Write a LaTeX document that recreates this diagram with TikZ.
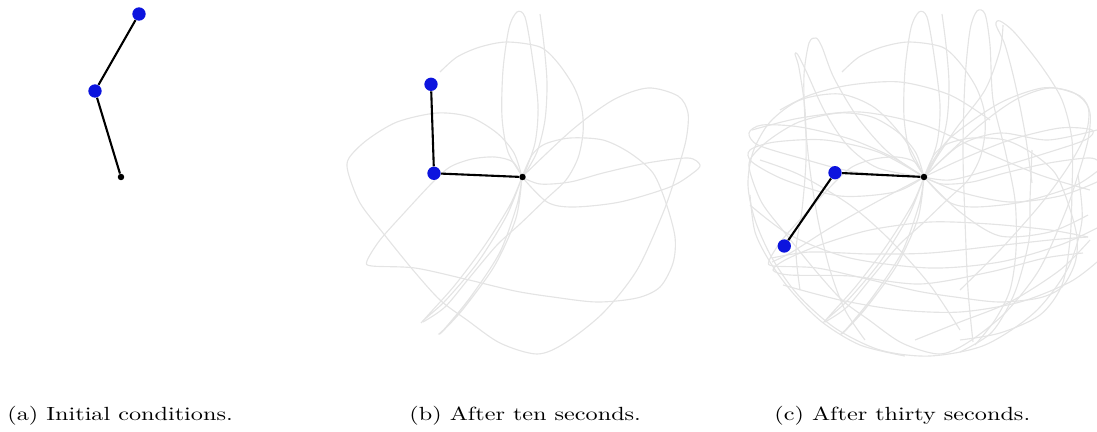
\documentclass[tikz,border=0pt]{standalone}
\definecolor{tracegray}{RGB}{228,228,228}
\definecolor{massblue}{RGB}{12,20,222}
\tikzset{
  trace/.style={draw=tracegray, line width=0.6pt},
  rod/.style={draw=black, line width=1.1pt},
  mass/.style={circle, fill=massblue, inner sep=0pt, minimum size=7pt},
  pivot/.style={circle, fill=black, inner sep=0pt, minimum size=3.4pt},
  caption/.style={anchor=base west, inner sep=0pt, xscale=1.27}
}
\newcommand\tracesb{%
  \draw[trace] plot[smooth] coordinates {(540,14) (544,45) (547,83) (545,120) (537,152) (523,177)};
  \draw[trace] plot[smooth] coordinates {(523,177) (508,152) (502,117) (503,70) (509,28) (517,12) (525,17) (532,55) (538,105) (535,143) (523,177)};
  \draw[trace] plot[smooth] coordinates {(522,177) (514,153) (497,133) (470,117) (437,113) (397,122) (367,140) (349,158) (348,172) (360,203) (383,233) (413,270) (440,300) (467,320) (500,343) (537,354) (565,343) (603,313) (637,270) (663,213) (676,175) (686,140) (688,113) (678,96) (648,88) (613,100) (572,130) (522,177)};
  \draw[trace] plot[smooth] coordinates {(522,177) (540,184) (570,182) (603,173) (647,163) (688,158) (700,165) (693,173) (670,187) (620,202) (573,207) (547,202) (522,177)};
  \draw[trace] plot[smooth] coordinates {(522,177) (532,155) (545,144) (570,138) (603,140) (630,153) (653,173) (666,203) (675,237) (673,263) (660,287) (637,298) (597,302) (553,297) (515,291) (465,279) (415,268) (372,266) (367,261) (380,240) (405,212) (432,183) (450,167) (472,159) (495,157) (513,162) (522,177)};
  \draw[trace] plot[smooth] coordinates {(423,322) (445,307) (470,277) (497,245) (520,224) (545,200) (566,180) (578,158) (583,133) (582,110) (574,87) (558,63) (540,47) (507,42) (480,47) (457,57) (440,72)};
  \draw[trace] plot[smooth] coordinates {(522,177) (507,215) (478,262) (446,300) (425,319) (421,323) (430,313) (455,285) (485,245) (510,205) (522,177)};
  \draw[trace] plot[smooth] coordinates {(522,177) (516,218) (495,265) (464,308) (443,331) (439,334) (447,326) (472,295) (500,252) (517,205) (522,177)};
}
\begin{document}
\begin{tikzpicture}[x=0.525pt, y=-0.525pt]
\useasboundingbox (0,0) rectangle (1097,431);

% ---------- panel (b) traces
\tracesb
% ---------- panel (c) traces
\begin{scope}
\clip (700,0) rectangle (1097,431);
\begin{scope}[shift={(402,0)}]
\tracesb
\end{scope}
\draw[trace] plot[smooth] coordinates {(924,177) (888,152) (858,118) (834,78) (822,47) (816,38) (809,43) (804,75) (805,120) (810,170) (818,220) (830,270) (845,310) (865,340)};
\draw[trace] plot[smooth] coordinates {(924,177) (878,168) (848,146) (825,112) (807,73) (798,55) (795,54) (799,68) (805,110) (806,160) (802,210) (796,250) (800,290)};
\draw[trace] plot[smooth] coordinates {(924,177) (905,140) (875,108) (840,94) (800,100) (770,122) (753,152) (748,185) (755,220) (772,258) (798,295) (835,328) (880,350) (930,356) (985,345) (1035,312) (1068,268) (1082,220) (1078,175)};
\draw[trace] plot[smooth] coordinates {(924,177) (892,157) (850,139) (800,127) (762,125) (749,133) (758,145) (800,158) (855,172) (924,177)};
\draw[trace] plot[smooth] coordinates {(924,177) (878,152) (825,140) (775,142) (750,150) (752,162) (785,180) (840,196) (895,192) (924,177)};
\draw[trace] plot[smooth] coordinates {(772,258) (810,252) (870,254) (930,253) (995,246) (1050,240) (1088,237)};
\draw[trace] plot[smooth] coordinates {(1088,237) (1050,230) (990,224) (930,222) (870,230) (820,245) (785,260) (773,270) (790,275) (850,276) (920,284) (990,272) (1045,258) (1083,253)};
\draw[trace] plot[smooth] coordinates {(750,205) (790,235) (850,258) (930,268) (1000,262) (1060,245) (1097,228)};
\draw[trace] plot[smooth] coordinates {(783,285) (840,300) (900,310) (960,312) (1020,302) (1070,282) (1097,262)};
\draw[trace] plot[smooth] coordinates {(973,342) (968,290) (965,220) (963,150) (965,80) (970,30) (977,11) (985,14) (990,45) (993,100) (1005,150) (1015,200) (1016,250) (1010,290) (995,320) (975,345)};
\draw[trace] plot[smooth] coordinates {(1032,183) (1025,133) (1015,83) (1005,45) (996,25) (1000,21) (1015,33) (1042,67) (1062,100) (1072,140) (1072,190) (1070,240) (1062,285) (1040,315) (1000,333) (960,340)};
\draw[trace] plot[smooth] coordinates {(924,177) (955,130) (985,90) (1000,50) (1003,25)};
\draw[trace] plot[smooth] coordinates {(1032,150) (1030,200) (1029,240) (1015,292) (992,332) (960,352)};
\draw[trace] plot[smooth] coordinates {(924,177) (948,140) (998,104) (1042,88) (1072,92) (1088,107) (1086,133) (1068,167) (1040,205) (1000,250) (960,290)};
\draw[trace] plot[smooth] coordinates {(924,177) (960,145) (1000,133) (1048,140) (1097,130)};
\draw[trace] plot[smooth] coordinates {(924,177) (960,192) (1010,202) (1060,196) (1097,182)};
\draw[trace] plot[smooth] coordinates {(750,195) (755,232) (770,262) (792,292) (822,322) (860,345) (905,356)};
\draw[trace] plot[smooth] coordinates {(924,177) (880,200) (830,228) (792,252) (772,262)};
\draw[trace] plot[smooth] coordinates {(924,177) (960,212) (1000,236) (1050,232) (1088,215)};
\draw[trace] plot[smooth] coordinates {(915,340) (960,322) (1010,302) (1060,270) (1090,240)};
\draw[trace] plot[smooth] coordinates {(760,160) (800,175) (850,205) (890,240) (930,285) (960,330)};
\draw[trace] plot[smooth] coordinates {(780,110) (810,95) (850,85) (900,82) (950,95) (990,120)};
\draw[trace] plot[smooth] coordinates {(924,177) (960,160) (1010,140) (1060,128) (1092,130) (1085,140) (1040,155) (990,170) (950,180) (924,177)};
\draw[trace] plot[smooth] coordinates {(752,130) (800,118) (860,112) (924,125) (980,150) (1040,175) (1090,190)};
\end{scope}

% ---------- pendulums
\node[pivot] (pa) at (121,177) {};
\node[mass] (m1a) at (95,91) {};
\node[mass] (m2a) at (139,14) {};
\node[pivot] (pb) at (522.5,177) {};
\node[mass] (m1b) at (434,173.3) {};
\node[mass] (m2b) at (431,84.3) {};
\node[pivot] (pc) at (924,177) {};
\node[mass] (m1c) at (835,172.7) {};
\node[mass] (m2c) at (784.3,246) {};
\draw[rod] (pa) -- (m1a) -- (m2a);
\draw[rod] (pb) -- (m1b) -- (m2b);
\draw[rod] (pc) -- (m1c) -- (m2c);

% ---------- captions
\node[caption] (ca) at (7,420) {(a) Initial conditions.};
\node[caption] (cb) at (409,420) {(b) After ten seconds.};
\node[caption] (cc) at (774,420) {(c) After thirty seconds.};
\end{tikzpicture}
\end{document}
